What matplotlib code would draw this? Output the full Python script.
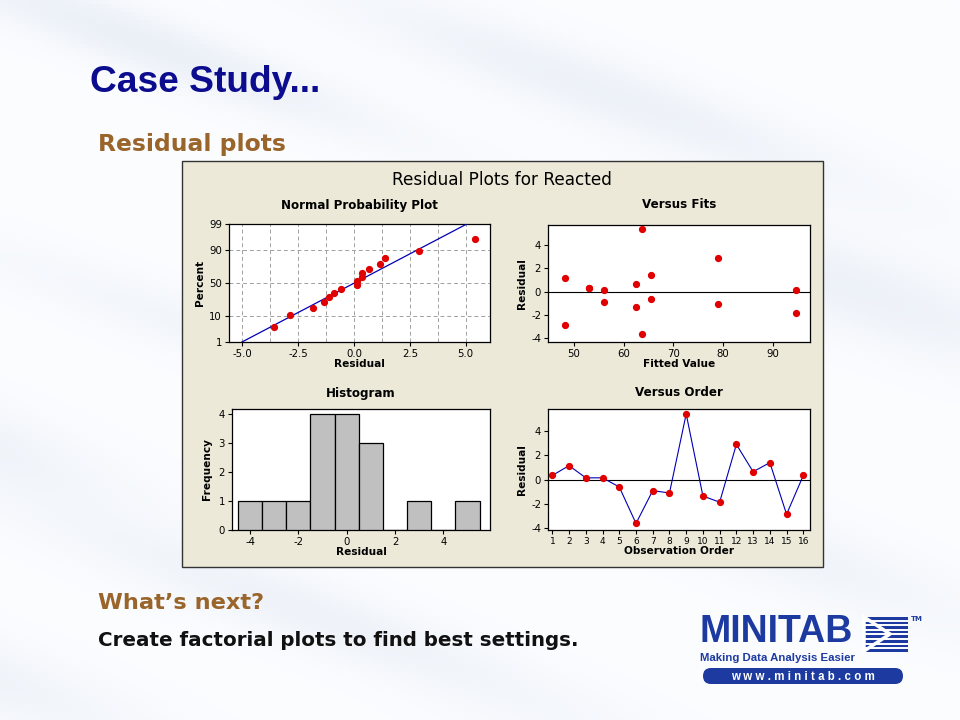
import numpy as np
import matplotlib
matplotlib.use("Agg")
import matplotlib.pyplot as plt
from matplotlib.patches import Rectangle, FancyBboxPatch, Polygon
from statistics import NormalDist

plt.rcParams["axes.unicode_minus"] = False

# ---------------- data ----------------
order = list(range(1, 17))
residuals = [0.35, 1.15, 0.15, 0.15, -0.6, -3.6, -0.9, -1.1,
             5.4, -1.35, -1.85, 2.9, 0.65, 1.4, -2.85, 0.35]
fitted = [53.0, 48.2, 56.1, 94.7, 65.5, 63.8, 56.1, 79.0,
          63.8, 62.5, 94.7, 79.0, 62.5, 65.5, 48.2, 53.0]
prob_ticks = [1, 10, 50, 90, 99]
prob_grid = [1, 10, 50, 90, 99]
hist_bins = [-4.5, -3.5, -2.5, -1.5, -0.5, 0.5, 1.5, 2.5, 3.5, 4.5, 5.5]

res = np.array(residuals)
n = len(res)

nd = NormalDist()


def fwd(p):
    p = np.clip(np.asarray(p, dtype=float), 0.001, 99.999)
    return np.array([nd.inv_cdf(v / 100.0) for v in p.ravel()]).reshape(p.shape)


def inv(z):
    z = np.asarray(z, dtype=float)
    return np.array([nd.cdf(v) * 100.0 for v in z.ravel()]).reshape(z.shape)


W, H = 960, 720
fig = plt.figure(figsize=(9.6, 7.2), dpi=100)
fig.patch.set_facecolor("white")

# ---------------- slide background ----------------
bg = fig.add_axes([0, 0, 1, 1])
bg.set_xlim(0, W)
bg.set_ylim(H, 0)
bg.axis("off")
yy, xx = np.mgrid[0:H:4, 0:W:4]
field = np.zeros_like(xx, dtype=float)
u = (xx * 0.94 + yy * 0.34)
v = (-xx * 0.34 + yy * 0.94)
for cu, cv, su, sv, a in [(150, -10, 260, 30, 0.6), (600, -120, 300, 35, 0.5),
                          (900, -20, 220, 45, 0.5), (350, 240, 300, 30, 0.35),
                          (80, 420, 200, 40, 0.45), (900, 250, 250, 40, 0.4),
                          (500, 470, 300, 35, 0.45), (150, 640, 250, 40, 0.45),
                          (950, 520, 200, 40, 0.35)]:
    field += a * np.exp(-(((u - cu) / su) ** 2 + ((v - cv) / sv) ** 2))
field = np.clip(field, 0, 1)
base = np.array([0.985, 0.99, 1.0])
tint = np.array([0.88, 0.91, 0.95])
rgb = base * (1 - field[..., None]) + tint * field[..., None]
bg.imshow(rgb, extent=(0, W, H, 0), aspect="auto", zorder=0)

# chart panel
bg.add_patch(Rectangle((182, 161), 641, 406, facecolor="#ece9d8",
                       edgecolor="#333333", lw=1.0, zorder=1))
bg.text(502, 180, "Residual Plots for Reacted", ha="center", va="center",
        fontsize=12.2, color="black", zorder=2)

# slide texts
bg.text(90, 83, "Case Study...", ha="left", va="center", fontsize=26.7,
        fontweight="bold", color="#0c0c8f", family="Liberation Sans", zorder=2)
bg.text(98, 144, "Residual plots", ha="left", va="center", fontsize=16.9,
        fontweight="bold", color="#9a652b", family="DejaVu Sans", zorder=2)
bg.text(98, 603, "What\u2019s next?", ha="left", va="center", fontsize=16.2,
        fontweight="bold", color="#9a652b", family="DejaVu Sans", zorder=2)
bg.text(98, 641, "Create factorial plots to find best settings.", ha="left",
        va="center", fontsize=14.35, fontweight="bold", color="#111111",
        family="DejaVu Sans", zorder=2)

# MINITAB logo
logo_blue = "#1c3aa0"
bg.text(699, 632, "MINITAB", ha="left", va="center", fontsize=27,
        fontweight="bold", color=logo_blue, family="Liberation Sans",
        zorder=2)
bg.text(700, 658, "Making Data Analysis Easier", ha="left", va="center",
        fontsize=8.2, fontweight="bold", color=logo_blue,
        family="Liberation Sans", zorder=2)
bg.add_patch(FancyBboxPatch((703, 668), 200, 16,
                            boxstyle="round,pad=0,rounding_size=8",
                            facecolor=logo_blue, edgecolor="none", zorder=2))
bg.text(803, 676.5, "w w w . m i n i t a b . c o m", ha="center", va="center",
        fontsize=8.3, fontweight="bold", color="white",
        family="Liberation Sans", zorder=3)
for i in range(8):
    y0 = 617 + i * 4.6
    bg.add_patch(Rectangle((864, y0), 44, 2.6, facecolor=logo_blue,
                           edgecolor="none", zorder=2))
bg.add_patch(Polygon([[864, 617], [890, 634], [864, 651]], closed=True,
                     facecolor="none", edgecolor="white", lw=2.5, zorder=3))
bg.text(911, 619, "TM", ha="left", va="center", fontsize=5,
        fontweight="bold", color=logo_blue, zorder=2)

# ---------------- subplot helpers ----------------
tick_fs = 7.3
lab_fs = 7.6
title_fs = 8.6
red = "#e00000"
navy = "#0000b4"


def ax_at(left, top, right, bottom):
    return fig.add_axes([left / W, (H - bottom) / H, (right - left) / W,
                         (bottom - top) / H])


def style(ax):
    ax.set_facecolor("white")
    for s in ax.spines.values():
        s.set_color("black")
        s.set_linewidth(0.9)
    ax.tick_params(axis="both", direction="out", length=3, width=0.8,
                   labelsize=tick_fs, pad=2, top=False, right=False)


# Normal probability plot
ax1 = ax_at(229, 224, 490, 342)
ax1.set_zorder(5)
style(ax1)
ax1.set_yscale("function", functions=(fwd, inv))
srt = np.sort(res)
pp = (np.arange(1, n + 1) - 0.3) / (n + 0.4) * 100
mu, sd = res.mean(), res.std(ddof=1)
pl = np.linspace(1, 99, 200)
ax1.plot(mu + sd * fwd(pl), pl, color=navy, lw=0.9, zorder=3)
ax1.plot(srt, pp, "o", color=red, ms=4.2, mec=red, zorder=4)
ax1.set_xlim(-5.6, 6.09)
ax1.set_ylim(1, 99)
ax1.set_xticks([-5.0, -2.5, 0.0, 2.5, 5.0])
ax1.set_xticklabels(["-5.0", "-2.5", "0.0", "2.5", "5.0"])
ax1.set_yticks(prob_ticks)
ax1.set_yticklabels([str(t) for t in prob_ticks])
ax1.yaxis.set_minor_locator(matplotlib.ticker.NullLocator())
for gx in np.arange(-5.0, 6.0, 1.25):
    ax1.axvline(gx, color="#a0a0a0", lw=0.7, ls=(0, (4, 3)), zorder=1)
for gy in prob_grid:
    ax1.axhline(gy, color="#a0a0a0", lw=0.7, ls=(0, (4, 3)), zorder=1)
ax1.set_xlabel("Residual", fontsize=lab_fs, fontweight="bold", labelpad=0)
ax1.set_ylabel("Percent", fontsize=lab_fs, fontweight="bold", labelpad=3)
ax1.set_title("Normal Probability Plot", fontsize=title_fs, fontweight="bold",
              pad=11)

# Versus Fits
ax2 = ax_at(548, 225, 810, 342)
ax2.set_zorder(5)
style(ax2)
ax2.axhline(0, color="black", lw=0.8, zorder=2)
ax2.plot(fitted, residuals, "o", color=red, ms=4.2, mec=red, zorder=4,
         ls="none")
ax2.set_xlim(44.8, 97.5)
ax2.set_ylim(-4.32, 5.71)
ax2.set_xticks([50, 60, 70, 80, 90])
ax2.set_yticks([-4, -2, 0, 2, 4])
ax2.set_xlabel("Fitted Value", fontsize=lab_fs, fontweight="bold", labelpad=0)
ax2.set_ylabel("Residual", fontsize=lab_fs, fontweight="bold", labelpad=3)
ax2.set_title("Versus Fits", fontsize=title_fs, fontweight="bold", pad=12)

# Histogram
ax3 = ax_at(232, 409, 490, 530)
ax3.set_zorder(5)
style(ax3)
ax3.hist(residuals, bins=hist_bins, color="#c0c0c0", edgecolor="black",
         linewidth=0.9, zorder=3)
ax3.set_xlim(-4.745, 5.93)
ax3.set_ylim(0, 4.16)
ax3.set_xticks([-4, -2, 0, 2, 4])
ax3.set_yticks([0, 1, 2, 3, 4])
ax3.set_xlabel("Residual", fontsize=lab_fs, fontweight="bold", labelpad=0)
ax3.set_ylabel("Frequency", fontsize=lab_fs, fontweight="bold", labelpad=5)
ax3.set_title("Histogram", fontsize=title_fs, fontweight="bold", pad=9)

# Versus Order
ax4 = ax_at(548, 409, 810, 530)
ax4.set_zorder(5)
style(ax4)
ax4.axhline(0, color="black", lw=0.8, zorder=2)
ax4.plot(order, residuals, "-", color=navy, lw=0.8, zorder=3)
ax4.plot(order, residuals, "o", color=red, ms=4.2, mec=red, zorder=4,
         ls="none")
ax4.set_xlim(0.74, 16.4)
ax4.set_ylim(-4.14, 5.81)
ax4.set_xticks(order)
ax4.tick_params(axis="x", labelsize=6.5)
ax4.set_yticks([-4, -2, 0, 2, 4])
ax4.set_xlabel("Observation Order", fontsize=lab_fs, fontweight="bold",
               labelpad=0)
ax4.set_ylabel("Residual", fontsize=lab_fs, fontweight="bold", labelpad=3)
ax4.set_title("Versus Order", fontsize=title_fs, fontweight="bold", pad=9)

fig.savefig("out.png", dpi=100, facecolor=fig.get_facecolor())
